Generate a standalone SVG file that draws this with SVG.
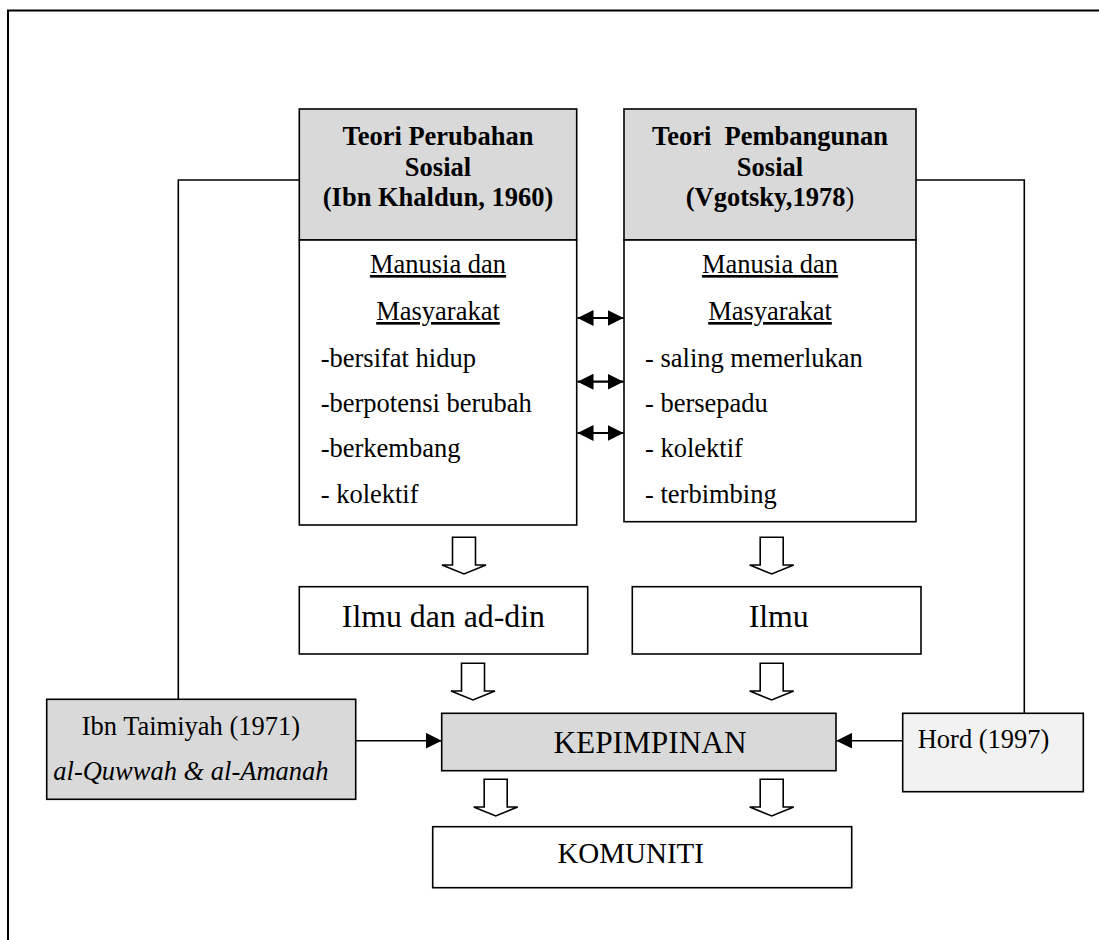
<svg xmlns="http://www.w3.org/2000/svg" xmlns:xlink="http://www.w3.org/1999/xlink" width="1099" height="940" viewBox="0 0 1099 940">
<style>
  .box { stroke: #000; stroke-width: 1.6; }
  .hdr { fill: #d9d9d9; }
  .wht { fill: #ffffff; }
  .lt { fill: #f2f2f2; }
  .t { font-family: "Liberation Serif", "Times New Roman", serif; fill: #000; }
  .b { font-weight: bold; font-size: 26.5px; }
  .n { font-size: 26.5px; }
  .big { font-size: 31.8px; }
  .u { text-decoration: underline; }
  .c { text-anchor: middle; }
  .ln { stroke: #000; stroke-width: 1.6; fill: none; }
  .dbl { stroke: #000; stroke-width: 2.2; fill: none; }
  .blk { fill: #fff; stroke: #000; stroke-width: 1.6; stroke-linejoin: miter; }
</style>
<defs>
  <marker id="tri" markerUnits="userSpaceOnUse" markerWidth="16" markerHeight="16" refX="16" refY="8" orient="auto-start-reverse" viewBox="0 0 16 16">
    <path d="M0,0 L16,8 L0,16 Z" fill="#000"/>
  </marker>
  <path id="blkArrow" class="blk" d="M-11.5,-36.7 H11.5 V-9 H22 L0,0 L-22,-9 H-11.5 Z"/>
</defs>
<rect x="0" y="0" width="1099" height="940" fill="#fff"/>
<g id="frame">
  <path d="M8,942 V10.5 H1101" fill="none" stroke="#000" stroke-width="2"/>
</g>
<g id="connectors">
  <path class="ln" d="M299,180 H178.3 V699.3"/>
  <path class="ln" d="M916,180 H1024.3 V713"/>
  <line class="dbl" x1="577.5" y1="318" x2="623.5" y2="318" marker-start="url(#tri)" marker-end="url(#tri)"/>
  <line class="dbl" x1="577.5" y1="381.7" x2="623.5" y2="381.7" marker-start="url(#tri)" marker-end="url(#tri)"/>
  <line class="dbl" x1="577.5" y1="433" x2="623.5" y2="433" marker-start="url(#tri)" marker-end="url(#tri)"/>
  <line class="ln" x1="355.7" y1="740.7" x2="441.7" y2="740.7" stroke-width="2" marker-end="url(#tri)"/>
  <line class="ln" x1="902.7" y1="740.7" x2="836.3" y2="740.7" stroke-width="2" marker-end="url(#tri)"/>
  <use xlink:href="#blkArrow" x="464" y="574"/>
  <use xlink:href="#blkArrow" x="771.7" y="574"/>
  <use xlink:href="#blkArrow" x="473" y="700"/>
  <use xlink:href="#blkArrow" x="771.7" y="700"/>
  <use xlink:href="#blkArrow" x="495.7" y="816"/>
  <use xlink:href="#blkArrow" x="771.7" y="816"/>
</g>
<g id="teori-perubahan">
  <rect class="box hdr" x="299.3" y="109" width="277.4" height="131"/>
  <rect class="box wht" x="299.3" y="240" width="277.4" height="285"/>
  <text class="t b c" x="438" y="145">Teori Perubahan</text>
  <text class="t b c" x="438" y="175.5">Sosial</text>
  <text class="t b c" x="438" y="206">(Ibn Khaldun, 1960)</text>
  <text class="t n c u" x="438" y="273">Manusia dan</text>
  <text class="t n c u" x="438" y="320">Masyarakat</text>
  <text class="t n" x="320.7" y="367">-bersifat hidup</text>
  <text class="t n" x="320.7" y="412">-berpotensi berubah</text>
  <text class="t n" x="320.7" y="457">-berkembang</text>
  <text class="t n" x="320.7" y="503">- kolektif</text>
</g>
<g id="teori-pembangunan">
  <rect class="box hdr" x="624" y="109" width="292" height="131"/>
  <rect class="box wht" x="624" y="240" width="292" height="281.7"/>
  <text class="t b c" x="770" y="145" xml:space="preserve">Teori  Pembangunan</text>
  <text class="t b c" x="770" y="175.5">Sosial</text>
  <text class="t b c" x="770" y="206">(Vgotsky,1978<tspan font-weight="normal">)</tspan></text>
  <text class="t n c u" x="770" y="273">Manusia dan</text>
  <text class="t n c u" x="770" y="320">Masyarakat</text>
  <text class="t n" x="645" y="367">- saling memerlukan</text>
  <text class="t n" x="645" y="412">- bersepadu</text>
  <text class="t n" x="645" y="457">- kolektif</text>
  <text class="t n" x="645" y="503">- terbimbing</text>
</g>
<g id="ilmu-ad-din">
  <rect class="box wht" x="299.3" y="586.7" width="288.4" height="67.3"/>
  <text class="t big c" x="443.4" y="626.7">Ilmu dan ad-din</text>
</g>
<g id="ilmu">
  <rect class="box wht" x="632.3" y="586.7" width="288.7" height="67.3"/>
  <text class="t big c" x="778.7" y="626.7">Ilmu</text>
</g>
<g id="ibn-taimiyah">
  <rect class="box hdr" x="46.7" y="699.3" width="309" height="100"/>
  <text class="t n" x="81.7" y="735">Ibn Taimiyah (1971)</text>
  <text class="t n" x="53.3" y="780" font-style="italic">al-Quwwah &amp; al-Amanah</text>
</g>
<g id="kepimpinan">
  <rect class="box hdr" x="441.7" y="713.3" width="394.3" height="57.4"/>
  <text class="t c" x="650" y="752.7" font-size="31.3">KEPIMPINAN</text>
</g>
<g id="hord">
  <rect class="box lt" x="902.7" y="713.3" width="180.6" height="78.4"/>
  <text class="t n" x="917.7" y="748.3">Hord (1997)</text>
</g>
<g id="komuniti">
  <rect class="box wht" x="432.7" y="826.7" width="419" height="61"/>
  <text class="t c" x="630.7" y="863.3" font-size="29">KOMUNITI</text>
</g>
</svg>
